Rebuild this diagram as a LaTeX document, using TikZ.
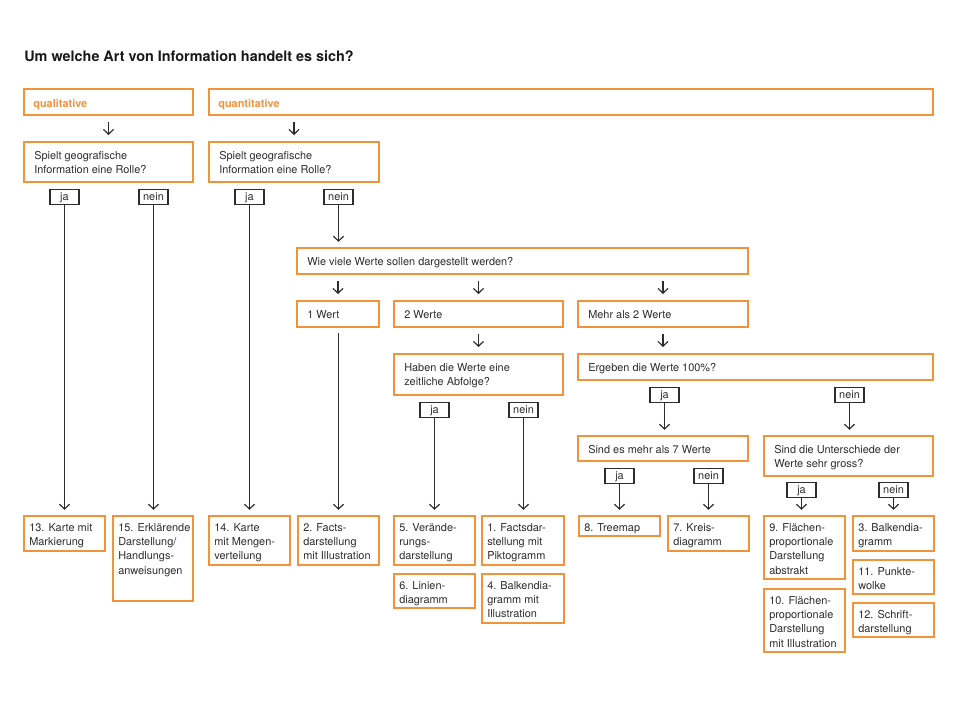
\documentclass[tikz,border=0pt]{standalone}
\usepackage{fontspec}
\setmainfont{TeX Gyre Heros}
\usetikzlibrary{arrows.meta,calc}
\definecolor{org}{RGB}{243,147,57}
\definecolor{ink}{RGB}{45,45,45}
\tikzset{
  obox/.style={draw=org, line width=1.4pt, anchor=north west, inner sep=0pt, outer sep=0pt},
  otext/.style={anchor=north west, inner sep=0pt, align=left, text=ink,
    font=\fontsize{8.2}{10.7}\selectfont},
  otitle/.style={anchor=north west, inner sep=0pt, text=org,
    font=\fontsize{8.2}{10.7}\selectfont\bfseries},
  lbl/.style={draw=ink, line width=0.9pt, anchor=north, inner sep=0pt,
    minimum width=21.75pt, minimum height=11.4pt, text height=5.9pt, text depth=1.6pt,
    text=ink, font=\fontsize{8.2}{10.7}\selectfont},
  con/.style={draw=ink, line width=0.9pt, -{Straight Barb[length=3.6pt,width=7.5pt]}},
  sarr/.style={con, shorten <=5.2pt, shorten >=5.2pt},
  larr/.style={con, shorten >=4.6pt},
}
\newcommand\obx[7][10,9]{%
  \pgfmathsetmacro\bw{(#5-#3)*0.75}%
  \pgfmathsetmacro\bh{(#6-#4)*0.75}%
  \node[obox, minimum width=\bw pt, minimum height=\bh pt] (#2) at (#3,#4) {};
  \node[otext] (#2-t) at ([shift={(#1)}]#2.north west) {#7};
}
\begin{document}
\begin{tikzpicture}[x=0.75pt,y=-0.75pt]
\useasboundingbox[fill=white] (0,0) rectangle (960,720);

\node[anchor=base west, inner sep=0pt, text=black!90, font=\fontsize{10.8}{13}\selectfont\bfseries] (title) at (24,62) {Um welche Art von Information handelt es sich?};

% top category boxes
\pgfmathsetmacro\bw{(193-24)*0.75}
\node[obox, minimum width=\bw pt, minimum height=19.5pt] (qual) at (24,89) {};
\node[otitle] (qual-t) at ([shift={(9,10)}]qual.north west) {qualitative};
\pgfmathsetmacro\bw{(933-209)*0.75}
\node[obox, minimum width=\bw pt, minimum height=19.5pt] (quant) at (209,89) {};
\node[otitle] (quant-t) at ([shift={(9,10)}]quant.north west) {quantitative};

% question boxes
\obx{s1}{24}{142}{193}{182}{Spielt geografische\\Information eine Rolle?}
\obx{s2}{209}{142}{379}{182}{Spielt geografische\\Information eine Rolle?}
\obx{wie}{297}{248}{748}{274}{Wie viele Werte sollen dargestellt werden?}
\obx{w1}{297}{301}{379}{327}{1 Wert}
\obx{w2}{394}{301}{563}{327}{2 Werte}
\obx{wm}{578}{301}{748}{327}{Mehr als 2 Werte}
\obx{hab}{394}{354}{563}{395}{Haben die Werte eine\\zeitliche Abfolge?}
\obx{erg}{578}{354}{933}{380}{Ergeben die Werte 100\%?}
\obx{s7}{578}{436}{748}{461}{Sind es mehr als 7 Werte}
\obx{unt}{764}{436}{933}{476}{Sind die Unterschiede der\\Werte sehr gross?}

% result boxes
\obx[5,7]{r13}{24}{516}{105}{551}{13. Karte mit\\Markierung}
\obx[5,7]{r15}{113}{516}{193}{601}{15. Erklärende\\Darstellung/\\Handlungs-\\anweisungen}
\obx[5,7]{r14}{209}{516}{290}{565}{14. Karte\\mit Mengen-\\verteilung}
\obx[5,7]{r2}{298}{516}{379}{565}{2. Facts-\\darstellung\\mit Illustration}
\obx[5,7]{r5}{394}{516}{475}{565}{5. Verände-\\rungs-\\darstellung}
\obx[5,7]{r1}{482}{516}{564}{565}{1. Factsdar-\\stellung mit\\Piktogramm}
\obx[5,7]{r6}{394}{574}{475}{608}{6. Linien-\\diagramm}
\obx[5,7]{r4}{482}{574}{564}{623}{4. Balkendia-\\gramm mit\\Illustration}
\obx[5,7]{r8}{579}{516}{660}{536}{8. Treemap}
\obx[5,7]{r7}{668}{516}{749}{551}{7. Kreis-\\diagramm}
\obx[5,7]{r9}{764}{516}{845}{579}{9. Flächen-\\proportionale\\Darstellung\\abstrakt}
\obx[5,7]{r10}{764}{589}{845}{652}{10. Flächen-\\proportionale\\Darstellung\\mit Illustration}
\obx[5,7]{r3}{853}{516}{934}{551}{3. Balkendia-\\gramm}
\obx[5,7]{r11}{853}{560}{934}{594}{11. Punkte-\\wolke}
\obx[5,7]{r12}{853}{603}{934}{637}{12. Schrift-\\darstellung}

% ja / nein labels
\node[lbl] (s1ja) at (64.5,189) {ja};
\node[lbl] (s1nein) at (153.5,189) {nein};
\node[lbl] (s2ja) at (249.5,189) {ja};
\node[lbl] (s2nein) at (338.5,189) {nein};
\node[lbl] (habja) at (434.5,402) {ja};
\node[lbl] (habnein) at (523.5,402) {nein};
\node[lbl] (ergja) at (664.5,387) {ja};
\node[lbl] (ergnein) at (849.5,387) {nein};
\node[lbl] (s7ja) at (619.5,468) {ja};
\node[lbl] (s7nein) at (708.5,468) {nein};
\node[lbl] (untja) at (801.5,482) {ja};
\node[lbl] (untnein) at (893.5,482) {nein};

% short arrows
\draw[sarr] (s1.north |- qual.south) -- (s1.north);
\draw[sarr] (s2.north |- quant.south) -- (s2.north);
\draw[sarr] (w1.north |- wie.south) -- (w1.north);
\draw[sarr] (w2.north |- wie.south) -- (w2.north);
\draw[sarr] (wm.north |- wie.south) -- (wm.north);
\draw[sarr] (w2.south) -- (w2.south |- hab.north);
\draw[sarr] (wm.south) -- (wm.south |- erg.north);

% long connectors
\draw[larr] (s1ja.south) -- (s1ja.south |- r13.north);
\draw[larr] (s1nein.south) -- (s1nein.south |- r15.north);
\draw[larr] (s2ja.south) -- (s2ja.south |- r14.north);
\draw[larr] (s2nein.south) -- (s2nein.south |- wie.north);
\draw[larr, shorten <=4.6pt] (r2.north |- w1.south) -- (r2.north);
\draw[larr] (habja.south) -- (habja.south |- r5.north);
\draw[larr] (habnein.south) -- (habnein.south |- r1.north);
\draw[larr] (ergja.south) -- (ergja.south |- s7.north);
\draw[larr] (ergnein.south) -- (ergnein.south |- unt.north);
\draw[larr] (s7ja.south) -- (s7ja.south |- r8.north);
\draw[larr] (s7nein.south) -- (s7nein.south |- r7.north);
\draw[larr] (untja.south) -- (untja.south |- r9.north);
\draw[larr] (untnein.south) -- (untnein.south |- r3.north);
\end{tikzpicture}
\end{document}
